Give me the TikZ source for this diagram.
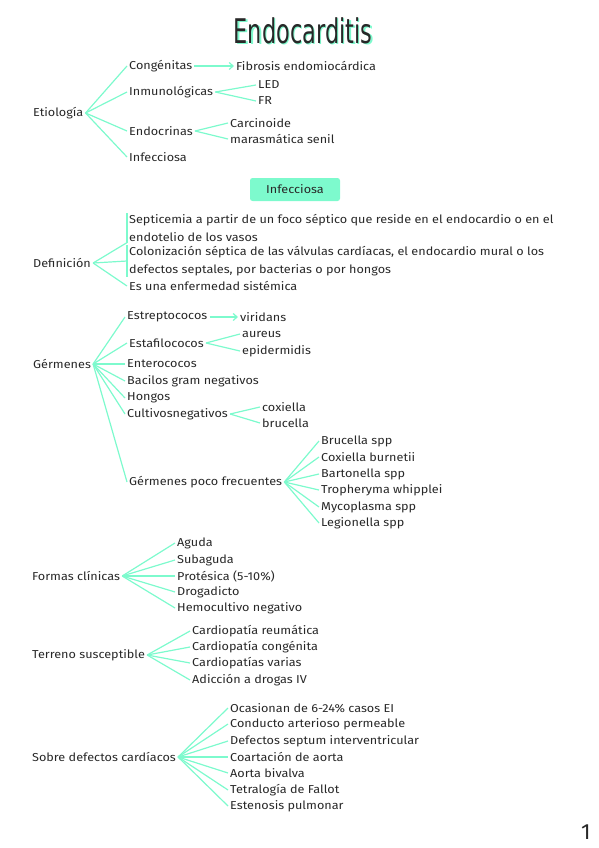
\documentclass[tikz,border=0pt]{standalone}
\usepackage{fontspec}
\setmainfont{Fira Sans}
\newfontfamily\hand[FakeStretch=1.1]{Fira Sans}
\newfontfamily\titlefont{DejaVu Sans}
\usetikzlibrary{arrows.meta}
\definecolor{aqua}{RGB}{125,250,205}
\definecolor{inkdark}{RGB}{40,40,40}
\tikzset{
  tx/.style={font=\hand\fontsize{11.5}{17.5}\selectfont, text=inkdark, anchor=west, inner xsep=2pt, inner ysep=1pt},
  ml/.style={tx, align=left},
  br/.style={draw=aqua, line width=1.2pt},
  arr/.style={br, -{Straight Barb[length=4pt,width=7pt]}},
  ibox/.style={fill=aqua, rounded corners=2.5pt, minimum width=90pt, minimum height=23pt, font=\hand\fontsize{11.5}{12}\selectfont, text=inkdark},
}
\begin{document}
\begin{tikzpicture}[x=1pt,y=-1pt]
\useasboundingbox (0,0) rectangle (599,848);
% title
\node[font=\titlefont\fontsize{34}{34}\selectfont, text=aqua, xscale=0.66] (titleshadow) at (304.5,31.5) {Endocarditis};
\node[font=\titlefont\fontsize{34}{34}\selectfont, text=inkdark, xscale=0.66] (title) at (303,30.5) {Endocarditis};

% Etiologia
\node[tx] (eti) at (31,113) {Etiología};
\node[tx] (cong) at (127,66) {Congénitas};
\node[tx] (fib) at (234,66) {Fibrosis endomiocárdica};
\node[tx] (inmu) at (127,92) {Inmunológicas};
\node[tx] (led) at (256,85) {LED};
\node[tx] (fr) at (256,101) {FR};
\node[tx] (endo) at (127,131) {Endocrinas};
\node[tx] (carc) at (228,123) {Carcinoide};
\node[tx] (mara) at (228,139) {marasmática senil};
\node[tx] (infe) at (127,157) {Infecciosa};
\foreach \c in {cong,inmu,endo,infe} \draw[br] (eti.east) -- (\c.west);
\draw[arr] (cong.east) -- (fib.west);
\foreach \c in {led,fr} \draw[br] (inmu.east) -- (\c.west);
\foreach \c in {carc,mara} \draw[br] (endo.east) -- (\c.west);

% Infecciosa box
\node[ibox] (ibx) at (295,189.5) {Infecciosa};

% Definicion
\node[tx] (def) at (31,263) {Definición};
\node[ml] (sep) at (127,228) {Septicemia a partir de un foco séptico que reside en el endocardio o en el\\endotelio de los vasos};
\node[ml] (col) at (127,261) {Colonización séptica de las válvulas cardíacas, el endocardio mural o los\\defectos septales, por bacterias o por hongos};
\node[tx] (enf) at (127,286) {Es una enfermedad sistémica};
\draw[br] (sep.north west) -- (sep.south west);
\draw[br] (col.north west) -- (col.south west);
\draw[br] (def.east) -- (sep.south west);
\draw[br] (def.east) -- (col.west);
\draw[br] (def.east) -- (enf.west);

% Germenes
\node[tx] (ger) at (31,364) {Gérmenes};
\node[tx] (estr) at (125,317) {Estreptococos};
\node[tx] (viri) at (238,317) {viridans};
\node[tx] (esta) at (127,343) {Estafilococos};
\node[tx] (aure) at (240,334) {aureus};
\node[tx] (epid) at (240,351) {epidermidis};
\node[tx] (ente) at (125,364) {Enterococos};
\node[tx] (baci) at (125,381) {Bacilos gram negativos};
\node[tx] (hong) at (125,398) {Hongos};
\node[tx] (cult) at (125,414) {Cultivosnegativos};
\node[tx] (coxi) at (260,407) {coxiella};
\node[tx] (bruc) at (260,423) {brucella};
\node[tx] (poco) at (127,482) {Gérmenes poco frecuentes};
\node[tx] (p1) at (319,441) {Brucella spp};
\node[tx] (p2) at (319,457) {Coxiella burnetii};
\node[tx] (p3) at (319,474) {Bartonella spp};
\node[tx] (p4) at (319,490) {Tropheryma whipplei};
\node[tx] (p5) at (319,507) {Mycoplasma spp};
\node[tx] (p6) at (319,523) {Legionella spp};
\foreach \c in {estr,esta,ente,baci,hong,cult,poco} \draw[br] (ger.east) -- (\c.west);
\draw[arr] (estr.east) -- (viri.west);
\foreach \c in {aure,epid} \draw[br] (esta.east) -- (\c.west);
\foreach \c in {coxi,bruc} \draw[br] (cult.east) -- (\c.west);
\foreach \c in {p1,p2,p3,p4,p5,p6} \draw[br] (poco.east) -- (\c.west);

% Formas clinicas
\node[tx] (for) at (30,576) {Formas clínicas};
\node[tx] (f1) at (175,543) {Aguda};
\node[tx] (f2) at (175,560) {Subaguda};
\node[tx] (f3) at (175,576) {Protésica (5-10\%)};
\node[tx] (f4) at (175,592) {Drogadicto};
\node[tx] (f5) at (175,608) {Hemocultivo negativo};
\foreach \c in {f1,f2,f3,f4,f5} \draw[br] (for.east) -- (\c.west);

% Terreno susceptible
\node[tx] (ter) at (30,655) {Terreno susceptible};
\node[tx] (t1) at (190,631) {Cardiopatía reumática};
\node[tx] (t2) at (190,647) {Cardiopatía congénita};
\node[tx] (t3) at (190,663) {Cardiopatías varias};
\node[tx] (t4) at (190,680) {Adicción a drogas IV};
\foreach \c in {t1,t2,t3,t4} \draw[br] (ter.east) -- (\c.west);

% Sobre defectos cardiacos
\node[tx] (sob) at (30,757) {Sobre defectos cardíacos};
\node[tx] (s1) at (228,708) {Ocasionan de 6-24\% casos EI};
\node[tx] (s2) at (228,724) {Conducto arterioso permeable};
\node[tx] (s3) at (228,741) {Defectos septum interventricular};
\node[tx] (s4) at (228,757) {Coartación de aorta};
\node[tx] (s5) at (228,773) {Aorta bivalva};
\node[tx] (s6) at (228,790) {Tetralogía de Fallot};
\node[tx] (s7) at (228,806) {Estenosis pulmonar};
\foreach \c in {s1,s2,s3,s4,s5,s6,s7} \draw[br] (sob.east) -- (\c.west);

% page number
\node[font=\fontsize{22}{22}\selectfont, text=inkdark] (pnum) at (586,832) {1};
\end{tikzpicture}
\end{document}
